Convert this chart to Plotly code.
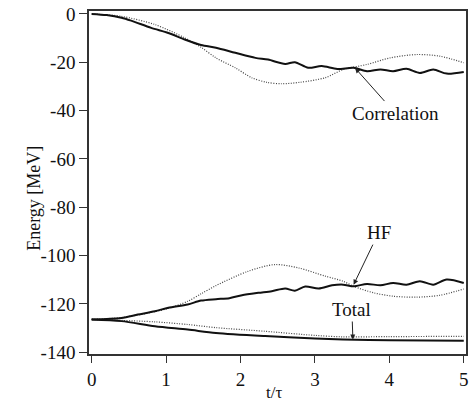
import plotly.graph_objects as go

# ---- data ----
corr_solid_t = [0, 0.2, 0.4, 0.53, 0.8, 1.03, 1.25, 1.47, 1.67, 1.93, 2.2, 2.37, 2.6, 2.73, 2.91,
                3.09, 3.3, 3.52, 3.7, 3.88, 4.05, 4.23, 4.41, 4.59, 4.77, 5.0]
corr_solid_v = [0, -0.5, -1.6, -2.8, -5.8, -7.9, -10.6, -12.9, -14.0, -16.1, -18.2, -18.9, -20.7, -20.0, -22.3,
                -21.6, -22.8, -22.3, -23.7, -23.0, -23.7, -22.7, -24.4, -23.0, -24.7, -24.0]

corr_dot_t = [0, 0.4, 0.85, 1.25, 1.47, 1.67, 1.93, 2.15, 2.35, 2.55, 2.8, 3.14, 3.38, 3.7, 4.01, 4.37, 4.68, 5.0]
corr_dot_v = [0, -1.0, -4.4, -9.9, -13.8, -18.2, -22.3, -26.4, -28.3, -28.9, -28.3, -26.4, -23.0, -20.9,
              -18.2, -16.8, -17.5, -20.2]

hf_solid_t = [0, 0.4, 0.62, 0.85, 1.03, 1.29, 1.47, 1.67, 1.85, 2.02, 2.24, 2.42, 2.6, 2.73, 2.87,
              3.05, 3.23, 3.38, 3.52, 3.7, 3.88, 4.05, 4.23, 4.41, 4.59, 4.77, 5.0]
hf_solid_v = [-126.4, -125.8, -124.4, -123.0, -121.6, -120.2, -118.6, -118.0, -117.6, -116.4, -115.4, -114.7,
              -113.6, -114.5, -112.8, -113.6, -112.3, -112.0, -112.7, -111.7, -112.3, -111.3, -112.0, -110.6,
              -112.0, -109.9, -111.3]

hf_dot_t = [0, 0.4, 0.85, 1.03, 1.29, 1.47, 1.67, 2.1, 2.46, 2.78, 3.14, 3.38, 3.52, 3.79, 4.05, 4.37, 4.68, 5.0]
hf_dot_v = [-126.4, -125.6, -123.2, -121.8, -118.9, -115.8, -112.4, -106.5, -103.7, -105.1, -108.5, -110.6,
            -112.7, -115.4, -116.8, -117.2, -116.4, -113.8]

total_solid_t = [0, 0.4, 0.85, 1.29, 1.67, 2.33, 3.0, 3.38, 4.0, 5.0]
total_solid_v = [-126.4, -127.1, -129.2, -130.6, -132.0, -133.3, -134.3, -134.7, -135.0, -135.2]

total_dot_t = [0, 0.4, 0.85, 1.29, 1.67, 2.33, 3.0, 3.38, 4.0, 5.0]
total_dot_v = [-126.4, -126.8, -127.4, -128.5, -129.8, -131.3, -133.0, -133.6, -133.5, -133.4]

x_ticks = [0, 1, 2, 3, 4, 5]
x_ticklabels = ["0", "1", "2", "3", "4", "5"]
y_ticks = [0, -20, -40, -60, -80, -100, -120, -140]
y_ticklabels = ["0", "-20", "-40", "-60", "-80", "-100", "-120", "-140"]

labels = ["Correlation", "HF", "Total"]
label_t = [3.54, 3.52, 3.51]
label_v = [-22.4, -112.0, -134.7]

FONT = "Liberation Serif, Times New Roman, serif"
SOLID = dict(color="#111111", width=2)
DOT = dict(color="#444444", width=1.2, dash="1px,1.5px")

fig = go.Figure()
for t, v, ln in [
    (corr_dot_t, corr_dot_v, DOT),
    (hf_dot_t, hf_dot_v, DOT),
    (total_dot_t, total_dot_v, DOT),
    (corr_solid_t, corr_solid_v, SOLID),
    (hf_solid_t, hf_solid_v, SOLID),
    (total_solid_t, total_solid_v, SOLID),
]:
    fig.add_trace(go.Scatter(x=t, y=v, mode="lines", line=dict(shape="spline", smoothing=0.8, **ln),
                             showlegend=False, hoverinfo="skip", cliponaxis=False))

offsets = [(40, 45), (25, -52), (-1, -30)]
for name, t, v, (ax, ay) in zip(labels, label_t, label_v, offsets):
    fig.add_annotation(x=t, y=v, text=name, showarrow=True, ax=ax, ay=ay,
                       arrowhead=2, arrowsize=1, arrowwidth=1, arrowcolor="#222",
                       font=dict(family=FONT, size=19, color="#111"))

# axis titles as free text so their placement can be matched
fig.add_annotation(xref="paper", yref="paper", x=-0.178, y=0.455, text="Energy [MeV]",
                   textangle=-90, showarrow=False, font=dict(family=FONT, size=18, color="#111"))
fig.add_annotation(xref="paper", yref="paper", x=0.49, y=-0.112, text="t/τ", yanchor="middle",
                   showarrow=False, borderpad=0, font=dict(family=FONT, size=17, color="#111"))

fig.update_layout(
    width=471, height=405,
    margin=dict(l=89, r=5, t=11, b=51, autoexpand=False),
    paper_bgcolor="white", plot_bgcolor="white",
    font=dict(family=FONT, size=19, color="#111"),
)
fig.update_xaxes(
    range=[-0.036, 5.03], tickvals=x_ticks, ticktext=x_ticklabels, automargin=False,
    tickfont=dict(family=FONT, size=19, color="#111"),
    ticks="outside", ticklen=7, tickwidth=1, tickcolor="#333",
    showline=True, linecolor="#333", linewidth=1.5, mirror=True, showgrid=False, zeroline=False,
)
fig.update_yaxes(
    range=[-140.7, 1.2], tickvals=y_ticks, ticktext=y_ticklabels, automargin=False,
    tickfont=dict(family=FONT, size=19, color="#111"),
    ticks="outside", ticklen=8, tickwidth=1, tickcolor="#333",
    showline=True, linecolor="#333", linewidth=1.5, mirror=True, showgrid=False, zeroline=False,
)

fig.write_html("out.html", config={"displayModeBar": False},
               post_script="document.body.style.margin='0';document.body.style.overflow='hidden';")
